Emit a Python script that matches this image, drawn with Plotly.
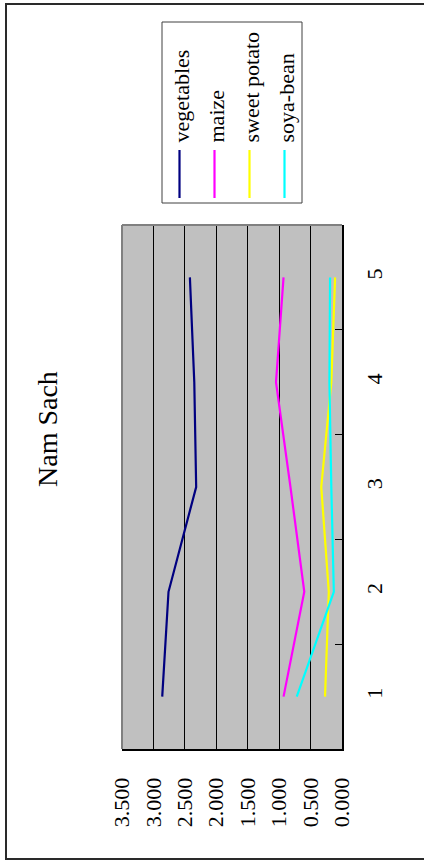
import plotly.graph_objects as go

# Survey rounds (category axis) and yields per crop
rounds = ["1", "2", "3", "4", "5"]
vegetables = [2.86, 2.76, 2.32, 2.35, 2.42]
maize = [0.93, 0.60, 0.82, 1.05, 0.93]
sweet_potato = [0.27, 0.21, 0.33, 0.17, 0.11]
soya_bean = [0.72, 0.13, 0.17, 0.20, 0.19]

series_names = ["vegetables", "maize", "sweet potato", "soya-bean"]
series_values = [vegetables, maize, sweet_potato, soya_bean]
series_colors = ["#000080", "#FF00FF", "#FFFF00", "#00FFFF"]

value_ticks = [0.0, 0.5, 1.0, 1.5, 2.0, 2.5, 3.0, 3.5]
value_labels = ["0.000", "0.500", "1.000", "1.500", "2.000", "2.500", "3.000", "3.500"]

W, H = 424, 867
L, R, T, B = 122, 342, 225, 749  # plot area in pixels
FONT = "Liberation Serif"


def px(x):
    return (x - L) / (R - L)


def py(y):
    return (B - y) / (B - T)


fig = go.Figure()
for name, vals, col in zip(series_names, series_values, series_colors):
    fig.add_trace(go.Scatter(
        x=vals, y=rounds, mode="lines", name=name,
        line=dict(color=col, width=2.2), showlegend=False,
    ))

shapes = []
annotations = []

# outer frame (right side runs past the page edge)
shapes.append(dict(type="rect", xref="paper", yref="paper",
                   x0=px(6), x1=px(436), y0=py(4), y1=py(859),
                   line=dict(color="#2a2a2a", width=2), layer="below"))
# grey plot-area border on the top and left edges
shapes.append(dict(type="line", xref="paper", yref="paper",
                   x0=px(L), x1=px(R), y0=py(T), y1=py(T),
                   line=dict(color="#808080", width=2)))
shapes.append(dict(type="line", xref="paper", yref="paper",
                   x0=px(L), x1=px(L), y0=py(T), y1=py(B),
                   line=dict(color="#808080", width=2)))

# rotated legend box
shapes.append(dict(type="rect", xref="paper", yref="paper",
                   x0=px(162), x1=px(302), y0=py(22), y1=py(203),
                   line=dict(color="#404040", width=1), fillcolor="white"))
legend_x = [179.5, 214.5, 249.5, 284.5]
for name, col, lx in zip(series_names, series_colors, legend_x):
    shapes.append(dict(type="line", xref="paper", yref="paper",
                       x0=px(lx), x1=px(lx), y0=py(150), y1=py(198),
                       line=dict(color=col, width=2.2)))
    annotations.append(dict(text=name, xref="paper", yref="paper",
                            x=px(lx + 1.5), y=py(145), xanchor="center", yanchor="bottom",
                            textangle=-90, showarrow=False,
                            font=dict(family=FONT, size=22, color="black")))

# chart title
annotations.append(dict(text="Nam Sach", xref="paper", yref="paper",
                        x=px(47), y=py(429), xanchor="center", yanchor="middle",
                        textangle=-90, showarrow=False,
                        font=dict(family=FONT, size=28, color="black")))

fig.update_layout(
    width=W, height=H, autosize=False,
    margin=dict(l=L, r=W - R, t=T, b=H - B, pad=0),
    paper_bgcolor="white", plot_bgcolor="#C0C0C0",
    font=dict(family=FONT, size=22, color="black"),
    shapes=shapes, annotations=annotations,
    showlegend=False,
)
fig.update_xaxes(
    range=[3.5, 0], tickvals=value_ticks, ticktext=value_labels,
    tickangle=-90, showgrid=True, gridcolor="black", gridwidth=1,
    showline=True, linecolor="black", linewidth=2,
    ticks="inside", ticklen=6, tickcolor="black",
    ticklabelstandoff=18, zeroline=False,
    tickfont=dict(family=FONT, size=22, color="black"),
)
fig.update_yaxes(
    type="category", categoryorder="array", categoryarray=rounds,
    range=[-0.5, 4.5], side="right", tickangle=-90,
    showgrid=False, showline=True, linecolor="black", linewidth=2,
    ticks="inside", tickson="boundaries", ticklen=7, tickcolor="black",
    ticklabelstandoff=12, zeroline=False,
    tickfont=dict(family=FONT, size=22, color="black"),
)

fig.write_html("out.html", config={"displayModeBar": False})
